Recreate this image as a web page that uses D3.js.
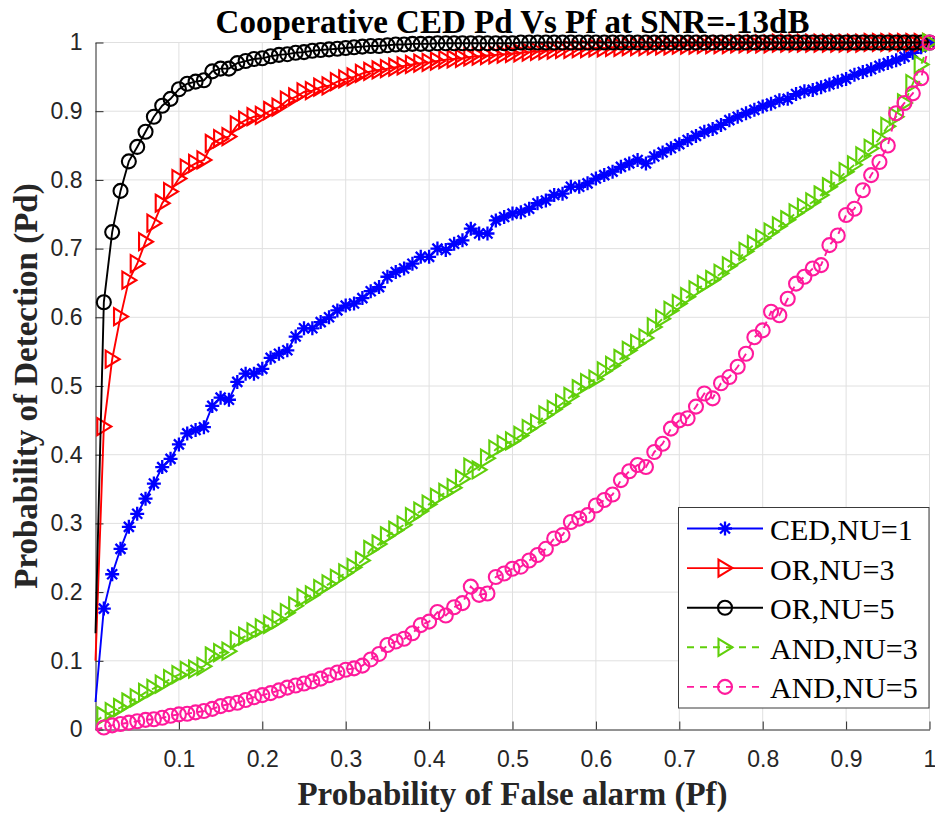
<!DOCTYPE html>
<html>
<head>
<meta charset="utf-8">
<script src="https://cdn.jsdelivr.net/npm/d3@7"></script>
<style>
  html, body { margin: 0; padding: 0; background: #ffffff; }
  svg { display: block; }
</style>
</head>
<body>
<svg id="chart" width="935" height="816"></svg>
<script>
// Probability of false alarm grid (Pf = 0, 0.01, ..., 1)
const pf = d3.range(0, 101).map(i => i / 100);

// Probability of detection for each scheme, one value per Pf step
const cedNU1 = [
  0.040,
  0.176, 0.226, 0.263, 0.295, 0.314, 0.336, 0.358, 0.382, 0.394, 0.415,
  0.431, 0.436, 0.440, 0.471, 0.483, 0.480, 0.506, 0.518, 0.518, 0.525,
  0.541, 0.547, 0.552, 0.572, 0.584, 0.584, 0.593, 0.600, 0.610, 0.617,
  0.620, 0.628, 0.638, 0.644, 0.659, 0.666, 0.671, 0.678, 0.688, 0.688,
  0.700, 0.698, 0.707, 0.712, 0.729, 0.722, 0.722, 0.741, 0.746, 0.751,
  0.753, 0.758, 0.766, 0.770, 0.778, 0.780, 0.790, 0.790, 0.795, 0.802,
  0.807, 0.812, 0.819, 0.824, 0.829, 0.824, 0.834, 0.840, 0.846, 0.852,
  0.858, 0.864, 0.870, 0.874, 0.880, 0.887, 0.892, 0.897, 0.902, 0.907,
  0.911, 0.916, 0.918, 0.925, 0.929, 0.931, 0.935, 0.939, 0.943, 0.947,
  0.953, 0.957, 0.961, 0.966, 0.970, 0.974, 0.979, 0.985, 0.993, 1.000
];

const orNU3 = [
  0.100,
  0.441, 0.539, 0.601, 0.654, 0.678, 0.710, 0.737, 0.766, 0.783, 0.802,
  0.817, 0.824, 0.829, 0.853, 0.860, 0.863, 0.880, 0.887, 0.892, 0.894,
  0.901, 0.906, 0.916, 0.921, 0.928, 0.930, 0.935, 0.937, 0.943, 0.947,
  0.950, 0.955, 0.958, 0.960, 0.962, 0.964, 0.966, 0.968, 0.970, 0.971,
  0.973, 0.975, 0.976, 0.977, 0.979, 0.980, 0.981, 0.982, 0.983, 0.984,
  0.985, 0.986, 0.987, 0.988, 0.989, 0.990, 0.990, 0.991, 0.991, 0.992,
  0.992, 0.993, 0.993, 0.994, 0.994, 0.994, 0.995, 0.995, 0.995, 0.996,
  0.996, 0.996, 0.997, 0.997, 0.997, 0.997, 0.998, 0.998, 0.998, 0.998,
  0.998, 0.999, 0.999, 0.999, 0.999, 0.999, 0.999, 0.999, 0.999, 0.999,
  0.999, 0.999, 1.000, 1.000, 1.000, 1.000, 1.000, 1.000, 1.000, 1.000
];

const orNU5 = [
  0.140,
  0.622, 0.724, 0.784, 0.827, 0.848, 0.870, 0.892, 0.908, 0.918, 0.932,
  0.940, 0.943, 0.945, 0.958, 0.962, 0.962, 0.970, 0.973, 0.976, 0.977,
  0.980, 0.982, 0.983, 0.985, 0.986, 0.988, 0.989, 0.990, 0.991, 0.992,
  0.993, 0.994, 0.995, 0.995, 0.996, 0.997, 0.997, 0.998, 0.998, 0.998,
  0.999, 0.999, 0.999, 0.999, 0.999, 0.999, 0.999, 0.999, 0.999, 0.999,
  1.000, 1.000, 1.000, 1.000, 1.000, 1.000, 1.000, 1.000, 1.000, 1.000,
  1.000, 1.000, 1.000, 1.000, 1.000, 1.000, 1.000, 1.000, 1.000, 1.000,
  1.000, 1.000, 1.000, 1.000, 1.000, 1.000, 1.000, 1.000, 1.000, 1.000,
  1.000, 1.000, 1.000, 1.000, 1.000, 1.000, 1.000, 1.000, 1.000, 1.000,
  1.000, 1.000, 1.000, 1.000, 1.000, 1.000, 1.000, 1.000, 1.000, 1.000
];

const andNU3 = [
  0.012,
  0.020, 0.026, 0.032, 0.040, 0.046, 0.054, 0.060, 0.066, 0.074, 0.080,
  0.086, 0.088, 0.092, 0.107, 0.112, 0.114, 0.130, 0.136, 0.142, 0.148,
  0.153, 0.160, 0.170, 0.180, 0.192, 0.196, 0.205, 0.212, 0.220, 0.228,
  0.236, 0.246, 0.262, 0.270, 0.282, 0.290, 0.298, 0.310, 0.318, 0.328,
  0.338, 0.345, 0.352, 0.365, 0.382, 0.378, 0.395, 0.408, 0.415, 0.420,
  0.428, 0.438, 0.446, 0.458, 0.466, 0.475, 0.485, 0.496, 0.505, 0.510,
  0.522, 0.530, 0.540, 0.552, 0.562, 0.570, 0.586, 0.598, 0.610, 0.620,
  0.630, 0.640, 0.648, 0.655, 0.664, 0.675, 0.684, 0.696, 0.706, 0.715,
  0.724, 0.733, 0.742, 0.752, 0.760, 0.768, 0.778, 0.790, 0.800, 0.812,
  0.822, 0.835, 0.846, 0.860, 0.878, 0.892, 0.912, 0.940, 0.968, 1.000
];

const andNU5 = [
  0.000,
  0.003, 0.006, 0.008, 0.010, 0.012, 0.014, 0.015, 0.017, 0.020, 0.022,
  0.023, 0.025, 0.027, 0.030, 0.034, 0.037, 0.039, 0.043, 0.047, 0.050,
  0.053, 0.057, 0.061, 0.064, 0.067, 0.070, 0.074, 0.079, 0.083, 0.087,
  0.089, 0.093, 0.102, 0.110, 0.123, 0.128, 0.132, 0.140, 0.152, 0.157,
  0.171, 0.166, 0.178, 0.184, 0.208, 0.196, 0.198, 0.222, 0.227, 0.234,
  0.237, 0.246, 0.254, 0.263, 0.278, 0.283, 0.302, 0.307, 0.312, 0.326,
  0.334, 0.342, 0.363, 0.376, 0.385, 0.382, 0.404, 0.416, 0.438, 0.450,
  0.453, 0.470, 0.489, 0.482, 0.504, 0.513, 0.528, 0.547, 0.571, 0.581,
  0.608, 0.603, 0.627, 0.649, 0.659, 0.671, 0.676, 0.705, 0.719, 0.749,
  0.758, 0.785, 0.807, 0.826, 0.850, 0.897, 0.912, 0.926, 0.948, 1.000
];

const seriesNames = ["CED,NU=1", "OR,NU=3", "OR,NU=5", "AND,NU=3", "AND,NU=5"];
const xTickValues = [0.1, 0.2, 0.3, 0.4, 0.5, 0.6, 0.7, 0.8, 0.9, 1];
const yTickValues = [0, 0.1, 0.2, 0.3, 0.4, 0.5, 0.6, 0.7, 0.8, 0.9, 1];

const titleText = "Cooperative CED Pd Vs Pf at SNR=-13dB";
const xLabelText = "Probability of False alarm (Pf)";
const yLabelText = "Probability of Detection (Pd)";

// ---------------------------------------------------------------------------
const svg = d3.select("#chart");
const W = 935, H = 816;
const plot = { left: 95.5, right: 929.5, top: 42.5, bottom: 729.5 };

const x = d3.scaleLinear().domain([0, 1]).range([plot.left, plot.right]);
const y = d3.scaleLinear().domain([0, 1]).range([plot.bottom, plot.top]);

const axisColor = "#262626";
const gridColor = "#e0e0e0";
const sansFont = "'Liberation Sans', Arial, sans-serif";
const serifFont = "'Liberation Serif', 'Times New Roman', serif";

svg.append("rect").attr("width", W).attr("height", H).attr("fill", "#ffffff");

// Grid
const grid = svg.append("g").attr("class", "grid");
grid.selectAll("line.vx").data(xTickValues).enter().append("line")
  .attr("x1", d => x(d)).attr("x2", d => x(d))
  .attr("y1", plot.top).attr("y2", plot.bottom)
  .attr("stroke", gridColor).attr("stroke-width", 1);
grid.selectAll("line.hy").data(yTickValues.filter(v => v > 0)).enter().append("line")
  .attr("x1", plot.left).attr("x2", plot.right)
  .attr("y1", d => y(d)).attr("y2", d => y(d))
  .attr("stroke", gridColor).attr("stroke-width", 1);

// Axes (ticks point inward)
const xAxis = d3.axisBottom(x).tickValues(xTickValues).tickFormat(d => String(d))
  .tickSizeInner(-8).tickSizeOuter(0).tickPadding(21);
const yAxis = d3.axisLeft(y).tickValues(yTickValues).tickFormat(d => String(d))
  .tickSizeInner(-8).tickSizeOuter(0).tickPadding(13);

const gx = svg.append("g").attr("transform", `translate(0,${plot.bottom})`).call(xAxis);
const gy = svg.append("g").attr("transform", `translate(${plot.left},0)`).call(yAxis);
[gx, gy].forEach(g => {
  g.select(".domain").attr("stroke", axisColor).attr("stroke-width", 1);
  g.selectAll(".tick line").attr("stroke", axisColor).attr("stroke-width", 1);
  g.selectAll(".tick text").attr("fill", axisColor)
    .style("font-family", sansFont).style("font-size", "23px");
});

// Series definitions
const seriesValues = [cedNU1, orNU3, orNU5, andNU3, andNU5];
const seriesStyle = [
  { color: "#0000ff", marker: "star",   dash: null },
  { color: "#ff0000", marker: "tri",    dash: null },
  { color: "#000000", marker: "circle", dash: null },
  { color: "#60cf0a", marker: "tri",    dash: "7,6" },
  { color: "#ff1a9c", marker: "circle", dash: "7,6" }
];

const markerPath = {
  star: "M-7,0H7M0,-7V7M-5,-5L5,5M-5,5L5,-5",
  tri: "M-6.5,-8.5L7.5,0L-6.5,8.5Z"
};

function drawMarker(g, kind, color) {
  if (kind === "circle") {
    g.append("circle").attr("r", 7).attr("fill", "none")
      .attr("stroke", color).attr("stroke-width", 2.1);
  } else {
    g.append("path").attr("d", markerPath[kind]).attr("fill", "none")
      .attr("stroke", color).attr("stroke-width", kind === "star" ? 2.3 : 2.1)
      .attr("stroke-linejoin", "miter");
  }
}

const line = d3.line().x(d => x(d[0])).y(d => y(d[1]));

const dataLayer = svg.append("g").attr("class", "series");
seriesValues.forEach((vals, si) => {
  const st = seriesStyle[si];
  const pts = pf.map((p, i) => [p, vals[i]]);
  const g = dataLayer.append("g");
  g.append("path").datum(pts)
    .attr("d", line)
    .attr("fill", "none")
    .attr("stroke", st.color)
    .attr("stroke-width", 1.9)
    .attr("stroke-dasharray", st.dash);
  // markers sit on every sampled Pf after the origin
  pts.filter(d => d[0] > 0).forEach(d => {
    const mg = g.append("g").attr("transform", `translate(${x(d[0])},${y(d[1])})`);
    drawMarker(mg, st.marker, st.color);
  });
});

// Title and axis labels
svg.append("text")
  .attr("x", (plot.left + plot.right) / 2).attr("y", 33)
  .attr("text-anchor", "middle")
  .style("font-family", serifFont).style("font-weight", "bold").style("font-size", "33px")
  .attr("fill", "#000")
  .text(titleText);

svg.append("text")
  .attr("x", (plot.left + plot.right) / 2).attr("y", 805)
  .attr("text-anchor", "middle")
  .style("font-family", serifFont).style("font-weight", "bold").style("font-size", "33px")
  .attr("fill", "#262626")
  .text(xLabelText);

svg.append("text")
  .attr("transform", `translate(37,${(plot.top + plot.bottom) / 2}) rotate(-90)`)
  .attr("text-anchor", "middle")
  .style("font-family", serifFont).style("font-weight", "bold").style("font-size", "33px")
  .attr("fill", "#262626")
  .text(yLabelText);

// Legend
const legend = svg.append("g").attr("class", "legend");
const lg = { x0: 678.5, y0: 507.5, w: 250.5, h: 200.5, rowTop: 528.5, rowStep: 39.6 };
legend.append("rect")
  .attr("x", lg.x0).attr("y", lg.y0).attr("width", lg.w).attr("height", lg.h)
  .attr("fill", "#ffffff").attr("stroke", "#3a3a3a").attr("stroke-width", 1);

seriesNames.forEach((name, i) => {
  const st = seriesStyle[i];
  const cy = lg.rowTop + i * lg.rowStep;
  legend.append("line")
    .attr("x1", 687).attr("x2", 763).attr("y1", cy).attr("y2", cy)
    .attr("stroke", st.color).attr("stroke-width", 1.9)
    .attr("stroke-dasharray", st.dash);
  const mg = legend.append("g").attr("transform", `translate(725,${cy})`);
  drawMarker(mg, st.marker, st.color);
  legend.append("text")
    .attr("x", 770).attr("y", cy + 11.5)
    .style("font-family", serifFont).style("font-size", "30px")
    .attr("fill", "#000")
    .text(name);
});
</script>
</body>
</html>
